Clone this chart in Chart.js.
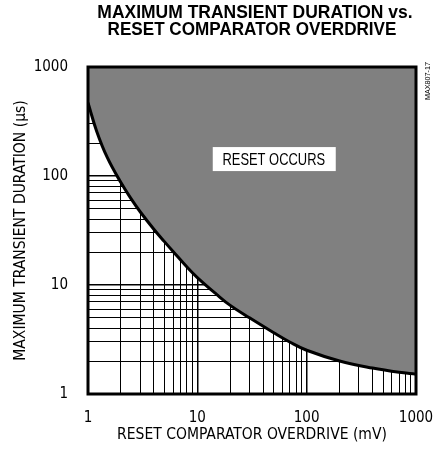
<!DOCTYPE html>
<html>
<head>
<meta charset="utf-8">
<script src="https://cdn.jsdelivr.net/npm/chart.js@4/dist/chart.umd.min.js"></script>
<style>
html,body{margin:0;padding:0;background:#fff;}
#wrap{width:435px;height:454px;position:relative;}
</style>
</head>
<body>
<div id="wrap"><canvas id="c" width="435" height="454"></canvas></div>
<script>
const titleLines = ["MAXIMUM TRANSIENT DURATION vs.", "RESET COMPARATOR OVERDRIVE"];
const xTitle = "RESET COMPARATOR OVERDRIVE (mV)";
const yTitle = "MAXIMUM TRANSIENT DURATION (\u03BCs)";
const regionLabel = "RESET OCCURS";
const partLabel = "MAX807-17";
const overdriveMv = [1, 1.2, 1.5, 2, 2.5, 3, 4, 5, 6, 8, 10, 15, 20, 30, 50, 70, 100, 200, 400, 700, 1000];
const durationUs = [470, 258, 148, 87, 61, 47, 32.5, 25, 20.3, 14.7, 11.7, 8.2, 6.5, 5.0, 3.65, 3.0, 2.52, 2.01, 1.73, 1.58, 1.52];
const majorTicks = [1, 10, 100, 1000];

const FONT = "'DejaVu Sans Condensed', 'Liberation Sans', Arial, sans-serif";
const TFONT = "'Liberation Sans', Arial, sans-serif";

function logTicks(s) {
  const t = [];
  for (let d = 1; d <= 100; d *= 10) for (let k = 1; k <= 9; k++) t.push({value: k * d});
  t.push({value: 1000});
  s.ticks = t;
}

function squeezedText(ctx, text, x, y, sx) {
  ctx.save();
  ctx.translate(x, y);
  ctx.scale(sx, 1);
  ctx.fillText(text, 0, 0);
  ctx.restore();
}

const overlay = {
  id: 'overlay',
  afterDatasetsDraw(chart) {
    const ctx = chart.ctx, a = chart.chartArea;
    ctx.save();
    ctx.strokeStyle = '#000';
    ctx.lineWidth = 3;
    ctx.strokeRect(a.left, a.top, a.right - a.left, a.bottom - a.top);
    const xs = chart.scales.x, ys = chart.scales.y;
    const cx = xs.getPixelForValue(50), cy = ys.getPixelForValue(143);
    ctx.fillStyle = '#fff';
    ctx.fillRect(cx - 61, cy - 12, 123, 24);
    ctx.fillStyle = '#000';
    ctx.textAlign = 'center';
    ctx.textBaseline = 'middle';
    ctx.font = "17px " + TFONT;
    squeezedText(ctx, regionLabel, cx, cy + 1, 0.76);
    ctx.restore();
  },
  afterDraw(chart) {
    const ctx = chart.ctx;
    ctx.save();
    ctx.fillStyle = '#000';
    ctx.textAlign = 'center';
    ctx.textBaseline = 'middle';
    ctx.font = "bold 19px " + TFONT;
    squeezedText(ctx, titleLines[0], 255, 13, 0.92);
    squeezedText(ctx, titleLines[1], 252, 30, 0.9);
    ctx.font = "8px " + TFONT;
    ctx.translate(427.5, 81);
    ctx.rotate(-Math.PI / 2);
    squeezedText(ctx, partLabel, 0, 0, 0.9);
    ctx.restore();
  }
};

const gridWidth = (c) => (c.tick && majorTicks.includes(c.tick.value)) ? 1.5 : 1;

new Chart(document.getElementById('c'), {
  type: 'line',
  data: {
    datasets: [{
      data: overdriveMv.map((x, i) => ({x: x, y: durationUs[i]})),
      borderColor: '#000',
      borderWidth: 3,
      backgroundColor: '#808080',
      fill: 'end',
      pointRadius: 0,
      tension: 0.4
    }]
  },
  options: {
    responsive: false,
    animation: false,
    devicePixelRatio: 1,
    layout: {padding: {top: 67, right: 19, left: 0, bottom: 0}},
    plugins: {legend: {display: false}, tooltip: {enabled: false}, title: {display: false}},
    scales: {
      x: {
        type: 'logarithmic',
        min: 1, max: 1000,
        afterFit(s) { s.height = 60; s.paddingRight = 0; s.paddingLeft = 0; },
        afterBuildTicks: logTicks,
        grid: {color: '#000', lineWidth: gridWidth, drawTicks: false},
        border: {display: false},
        ticks: {
          autoSkip: false, maxRotation: 0, padding: 15,
          color: '#000', font: {family: FONT, size: 15},
          callback(v) { return majorTicks.includes(v) ? String(v) : ''; }
        },
        title: {display: true, text: xTitle, color: '#000', font: {family: FONT, size: 15.5}, padding: {top: 1, bottom: 10}}
      },
      y: {
        type: 'logarithmic',
        min: 1, max: 1000,
        afterFit(s) { s.width = 88; s.paddingTop = 0; s.paddingBottom = 0; },
        afterBuildTicks: logTicks,
        grid: {color: '#000', lineWidth: gridWidth, drawTicks: false},
        border: {display: false},
        ticks: {
          autoSkip: false, padding: 20,
          color: '#000', font: {family: FONT, size: 15},
          callback(v) { return majorTicks.includes(v) ? String(v) : ''; }
        },
        title: {display: true, text: yTitle, color: '#000', font: {family: FONT, size: 15.5}, padding: {top: 12}}
      }
    }
  },
  plugins: [overlay]
});
</script>
</body>
</html>
